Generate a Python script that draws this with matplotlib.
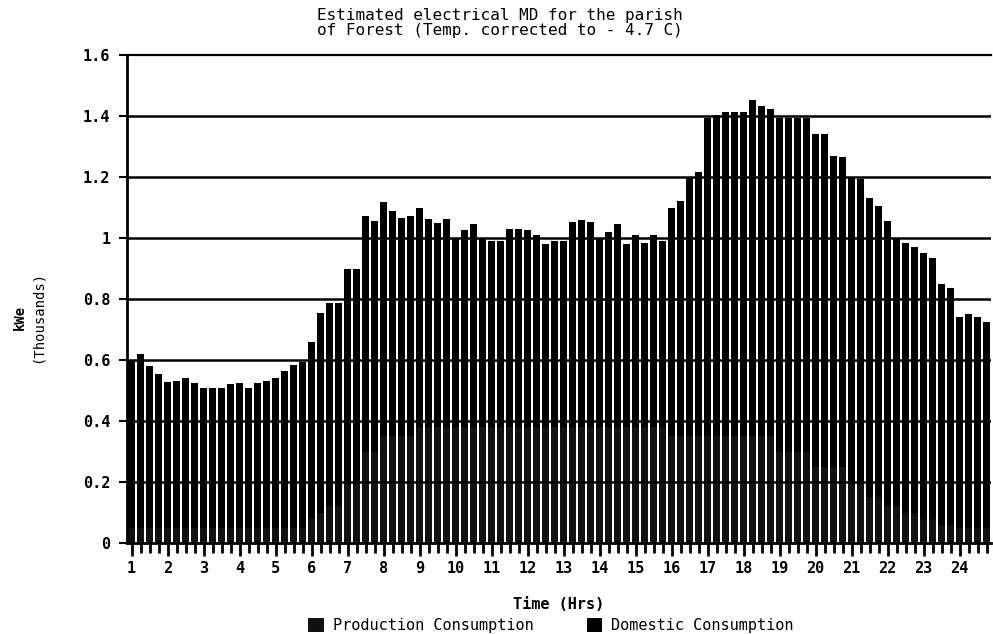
import matplotlib.pyplot as plt
import numpy as np

# quarter-hour maximum demand, thousands of kWe (total bar height)
total_kwe = [
    0.600, 0.620, 0.580, 0.555, 0.528, 0.533, 0.540, 0.525,
    0.510, 0.510, 0.510, 0.520, 0.525, 0.508, 0.525, 0.530,
    0.540, 0.565, 0.585, 0.595, 0.660, 0.754, 0.787, 0.787,
    0.898, 0.898, 1.072, 1.056, 1.119, 1.090, 1.065, 1.072,
    1.098, 1.062, 1.050, 1.062, 1.000, 1.026, 1.045, 1.000,
    0.990, 0.990, 1.030, 1.030, 1.025, 1.010, 0.980, 0.990,
    0.990, 1.053, 1.060, 1.053, 1.000, 1.020, 1.045, 0.980,
    1.010, 0.985, 1.010, 0.990, 1.100, 1.122, 1.197, 1.218,
    1.393, 1.405, 1.412, 1.412, 1.413, 1.452, 1.433, 1.425,
    1.395, 1.395, 1.395, 1.395, 1.340, 1.340, 1.270, 1.265,
    1.200, 1.195, 1.130, 1.105, 1.055, 1.000, 0.985, 0.970,
    0.950, 0.935, 0.850, 0.835, 0.740, 0.750, 0.740, 0.725,
]
# production share (not distinguishable in the scan, estimated)
production_kwe = [
    0.05, 0.05, 0.05, 0.05, 0.05, 0.05, 0.05, 0.05,
    0.05, 0.05, 0.05, 0.05, 0.05, 0.05, 0.05, 0.05,
    0.05, 0.05, 0.05, 0.05, 0.08, 0.10, 0.12, 0.12,
    0.20, 0.20, 0.30, 0.30, 0.35, 0.35, 0.35, 0.35,
    0.38, 0.38, 0.38, 0.38, 0.38, 0.38, 0.38, 0.38,
    0.38, 0.38, 0.38, 0.38, 0.38, 0.38, 0.38, 0.38,
    0.38, 0.38, 0.38, 0.38, 0.38, 0.38, 0.38, 0.38,
    0.38, 0.38, 0.38, 0.38, 0.35, 0.35, 0.35, 0.35,
    0.35, 0.35, 0.35, 0.35, 0.35, 0.35, 0.35, 0.35,
    0.30, 0.30, 0.30, 0.30, 0.25, 0.25, 0.25, 0.25,
    0.20, 0.20, 0.15, 0.15, 0.12, 0.12, 0.10, 0.10,
    0.08, 0.08, 0.06, 0.06, 0.05, 0.05, 0.05, 0.05,
]
hour_labels = [str(h) for h in range(1, 25)]
y_ticks = [0, 0.2, 0.4, 0.6, 0.8, 1.0, 1.2, 1.4, 1.6]
y_tick_labels = ["0", "0.2", "0.4", "0.6", "0.8", "1", "1.2", "1.4", "1.6"]

MONO = "DejaVu Sans Mono"

total = np.array(total_kwe)
production = np.array(production_kwe)
domestic = total - production
x = np.arange(len(total))

fig = plt.figure(figsize=(9.93, 6.34), dpi=100)
ax = fig.add_axes([0.128, 0.1435, 0.870, 0.7695])

ax.bar(x, production, width=0.85, color="#111111", label="Production Consumption", zorder=2)
ax.bar(x, domestic, width=0.85, bottom=production, color="#000000",
       label="Domestic Consumption", zorder=2)

ax.set_xlim(-0.5, len(total) - 0.5)
ax.set_ylim(0, 1.6)

# gridlines
for yv in y_ticks[1:-1]:
    ax.axhline(yv, color="black", lw=1.8, zorder=3)

ax.spines["right"].set_visible(False)
ax.spines["top"].set_linewidth(1.6)
ax.spines["left"].set_linewidth(2)
ax.spines["bottom"].set_linewidth(2)

ax.set_yticks(y_ticks)
ax.set_yticklabels(y_tick_labels, fontfamily=MONO, fontweight="bold", fontsize=11)
ax.tick_params(axis="y", length=6, width=1.5, pad=6)

ax.set_xticks(x[::4])
ax.set_xticklabels(hour_labels, fontfamily=MONO, fontweight="bold", fontsize=11)
ax.set_xticks(x, minor=True)
ax.tick_params(axis="x", which="major", length=9, width=2, pad=4)
ax.tick_params(axis="x", which="minor", length=7, width=2)

ax.set_xlabel("Time (Hrs)", fontfamily=MONO, fontweight="bold", fontsize=11, labelpad=15)
fig.text(0.02, 0.5, "kWe", rotation=90, ha="center", va="center",
         fontfamily=MONO, fontweight="bold", fontsize=10)
fig.text(0.038, 0.5, "(Thousands)", rotation=90, ha="center", va="center",
         fontfamily=MONO, fontsize=10)

fig.text(0.503, 0.988, "Estimated electrical MD for the parish\nof Forest (Temp. corrected to - 4.7 C)",
         ha="center", va="top", fontfamily=MONO, fontsize=11.5, linespacing=1.0)

handles, labels = ax.get_legend_handles_labels()
fig.legend(handles, labels, loc="lower center", bbox_to_anchor=(0.555, -0.02), ncol=2,
           frameon=False, prop={"family": MONO, "size": 11}, handlelength=1.0,
           handleheight=1.0, columnspacing=3.5, handletextpad=0.6)

fig.savefig("out.png", dpi=100)
